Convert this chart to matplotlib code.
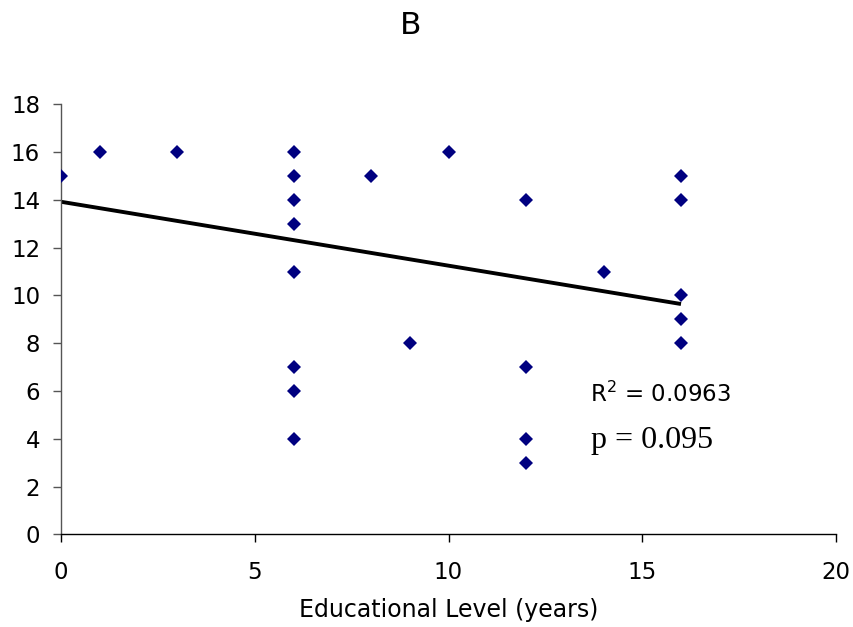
import matplotlib
matplotlib.use("Agg")
import matplotlib.pyplot as plt
import numpy as np

# Data
edu_years = [0, 1, 3, 6, 6, 6, 6, 6, 6, 6, 6, 8, 9, 10, 12, 12, 12, 12, 14, 16, 16, 16, 16, 16]
scores    = [15, 16, 16, 16, 15, 14, 13, 11, 7, 6, 4, 15, 8, 16, 14, 7, 4, 3, 11, 15, 14, 10, 9, 8]

trend_intercept = 13.92
trend_slope = -0.2675
trend_x = [0, 16]

x_ticks = [0, 5, 10, 15, 20]
y_ticks = [0, 2, 4, 6, 8, 10, 12, 14, 16, 18]

title = "B"
xlabel = "Educational Level (years)"
r2_text = r"R$^{2}$ = 0.0963"
p_text = "p = 0.095"

plt.rcParams['font.family'] = ['DejaVu Sans']
plt.rcParams['mathtext.fontset'] = 'dejavusans'

fig = plt.figure(figsize=(8.54, 6.27), dpi=100)
ax = fig.add_axes([61/854, 1-534.3/627, (836-61)/854, (534.3-104.3)/627])

ax.plot(edu_years, scores, linestyle='none', marker='D', markersize=7.2,
        color='#000080', markeredgewidth=0, zorder=3)

tx = np.array(trend_x, dtype=float)
ax.plot(tx, trend_intercept + trend_slope * tx, color='black', linewidth=2.8,
        solid_capstyle='butt', zorder=2)

ax.set_xlim(0, 20)
ax.set_ylim(0, 18)
ax.set_xticks(x_ticks)
ax.set_yticks(y_ticks)
ax.spines['top'].set_visible(False)
ax.spines['right'].set_visible(False)
for s in ('left', 'bottom'):
    ax.spines[s].set_linewidth(1.0)
    ax.spines[s].set_color('black')
ax.spines['left'].set_color('#555555')
ax.tick_params(axis='both', direction='out', length=6, width=1.0, labelsize=16.5,
               colors='black')
ax.tick_params(axis='y', pad=9, color='#555555')
ax.tick_params(axis='x', pad=13)

ax.set_xlabel(xlabel, fontsize=17, labelpad=10)

ax.text(13.65, 5.54, r2_text, fontsize=16.5, va='baseline', ha='left', color='black')
ax.text(13.68, 3.61, p_text, fontsize=23, va='baseline', ha='left',
        family=['Liberation Serif', 'DejaVu Serif'], color='black')

fig.text(411/854, 1-25/627, title, fontsize=22.5, ha='center', va='center')

fig.savefig("out.png", dpi=100)
